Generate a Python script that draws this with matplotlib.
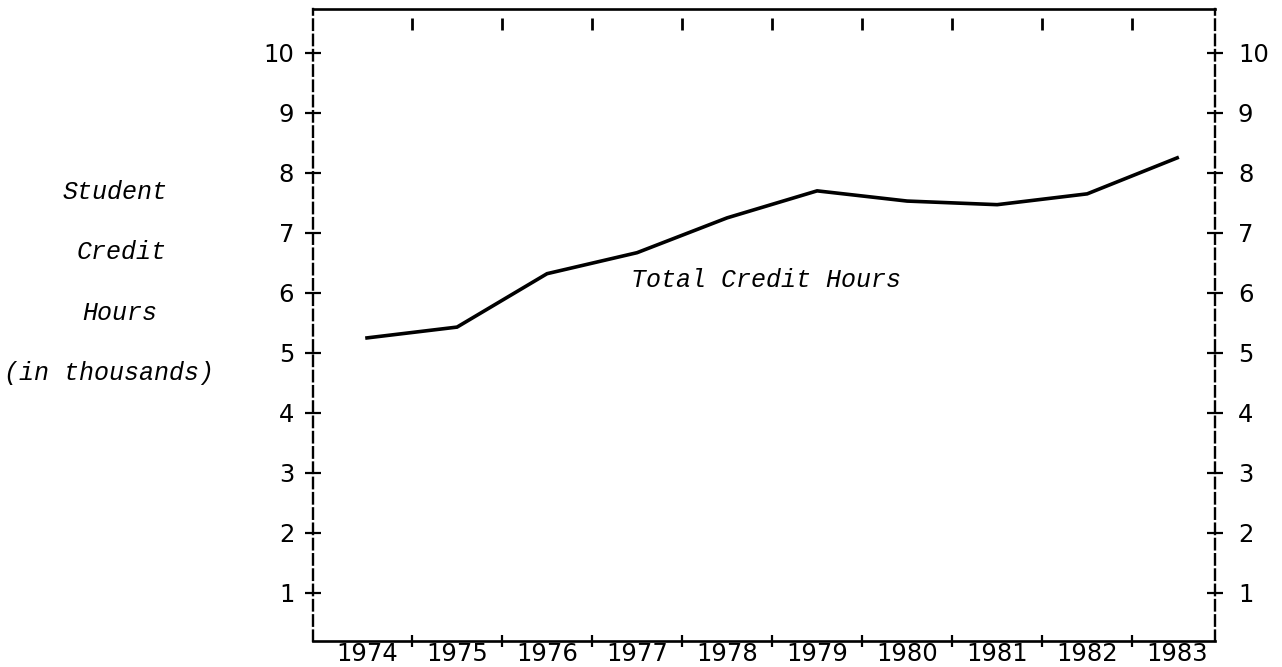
import matplotlib
matplotlib.use("Agg")
import matplotlib.pyplot as plt
import matplotlib.transforms as mtransforms

plt.rcParams['lines.scale_dashes'] = False

years = [1974, 1975, 1976, 1977, 1978, 1979, 1980, 1981, 1982, 1983]
credit_hours = [5.25, 5.43, 6.32, 6.67, 7.25, 7.70, 7.53, 7.47, 7.65, 8.25]
y_ticks = [1, 2, 3, 4, 5, 6, 7, 8, 9, 10]
year_labels = [str(y) for y in years]
sep_ticks = [y + 0.5 for y in years[:-1]]

W, H = 1282, 667
fig = plt.figure(figsize=(W / 100, H / 100), dpi=100)
L, R, T, B = 313, 1215, 9, 641
ax = fig.add_axes([L / W, (H - B) / H, (R - L) / W, (B - T) / H])
ax.set_xlim(1973.4, 1983.42)
ax.set_ylim(0.2, 10.73)

num_font = dict(family='DejaVu Sans', size=17.5)
ital_font = dict(family='Liberation Mono', style='italic', size=18)

ax.plot(years, credit_hours, color='black', lw=2.6, solid_joinstyle='miter')

# spines
dash = (0, (7.5, 3.5))
for s in ['left', 'right']:
    ax.spines[s].set_linestyle(dash)
    ax.spines[s].set_linewidth(1.7)
for s in ['top', 'bottom']:
    ax.spines[s].set_linewidth(1.9)

# y ticks left
ax.set_yticks(y_ticks)
ax.set_yticklabels([str(v) for v in y_ticks], fontdict=num_font)
ax.tick_params(axis='y', which='major', direction='inout', length=11, width=1.6, pad=8)

# right y axis
ax2 = ax.twinx()
ax2.set_ylim(ax.get_ylim())
ax2.set_yticks(y_ticks)
ax2.set_yticklabels([str(v) for v in y_ticks], fontdict=num_font)
ax2.tick_params(axis='y', which='major', direction='inout', length=11, width=1.6, pad=11)
for s in ax2.spines.values():
    s.set_visible(False)

# x ticks: separators at half-years, labels at years
ax.set_xticks(sep_ticks)
ax.set_xticklabels([''] * len(sep_ticks))
ax.tick_params(axis='x', which='major', direction='inout', length=9, width=1.6)
ax.set_xticks(years, minor=True)
ax.set_xticklabels(year_labels, minor=True, fontdict=num_font)
ax.tick_params(axis='x', which='minor', length=0, pad=1)

# top short tick marks (detached from top line)
trans = mtransforms.blended_transform_factory(ax.transData, ax.transAxes)
h_ax = B - T
ax.vlines(sep_ticks, 1 - 21 / h_ax, 1 - 9 / h_ax, transform=trans, color='black', lw=2.0)

# left labels
fig.text(115 / W, 1 - 192 / H, 'Student', ha='center', va='center', **ital_font)
fig.text(122 / W, 1 - 252 / H, 'Credit', ha='center', va='center', **ital_font)
fig.text(120 / W, 1 - 313 / H, 'Hours', ha='center', va='center', **ital_font)
fig.text(109 / W, 1 - 373 / H, '(in thousands)', ha='center', va='center', **ital_font)

fig.text(766 / W, 1 - 280 / H, 'Total Credit Hours', ha='center', va='center', **ital_font)

fig.savefig('out.png', dpi=100, facecolor='white')
